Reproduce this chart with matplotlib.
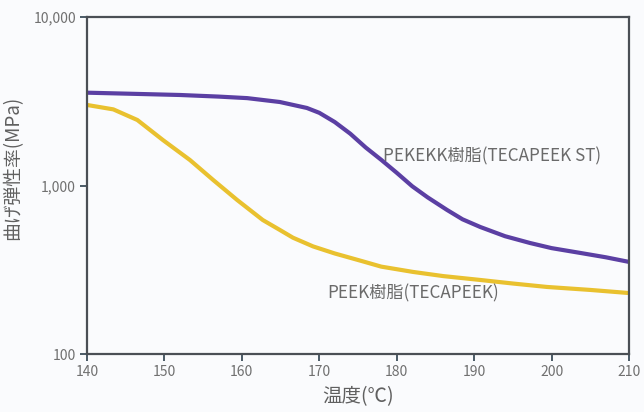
import matplotlib
matplotlib.use("Agg")
import matplotlib.pyplot as plt
from matplotlib.ticker import FixedLocator, FixedFormatter, NullLocator

plt.rcParams["font.family"] = ["Noto Sans CJK JP", "DejaVu Sans"]

# temperature (deg C) and flexural modulus (MPa)
temp_pekekk = [140, 146, 152, 157, 160.7, 164.9, 168.4, 170, 172, 174, 176, 178, 180,
               182, 184, 186.5, 188.5, 190.8, 194, 197.2, 200, 203.7, 207, 210]
mod_pekekk = [3555, 3500, 3445, 3370, 3300, 3130, 2885, 2700, 2380, 2030, 1680, 1420, 1190,
              990, 850, 716, 630, 567, 500, 456, 425, 398, 375, 352]

temp_peek = [140, 143.4, 146.5, 149.8, 153.3, 156.3, 159.4, 162.7, 164.9, 166.6, 169.2,
             172, 175.5, 178, 182.1, 186, 190.8, 195, 199.4, 205, 210]
mod_peek = [3006, 2830, 2448, 1862, 1416, 1078, 820, 624, 545, 490, 435,
            395, 356, 330, 307, 290, 275, 262, 250, 240, 230]

x_ticks = [140, 150, 160, 170, 180, 190, 200, 210]
y_ticks = [100, 1000, 10000]
y_tick_labels = ["100", "1,000", "10,000"]

bg = "#fafbfd"
fig = plt.figure(figsize=(6.44, 4.12), dpi=100, facecolor=bg)
ax = fig.add_axes([87 / 644, 1 - 354 / 412, (629 - 87) / 644, (354 - 17) / 412])
ax.set_facecolor(bg)

ax.plot(temp_pekekk, mod_pekekk, color="#5b3fa3", linewidth=3, solid_capstyle="butt")
ax.plot(temp_peek, mod_peek, color="#e9c12f", linewidth=3, solid_capstyle="butt")

ax.set_yscale("log")
ax.set_xlim(140, 210)
ax.set_ylim(100, 10000)
ax.yaxis.set_major_locator(FixedLocator(y_ticks))
ax.yaxis.set_major_formatter(FixedFormatter(y_tick_labels))
ax.yaxis.set_minor_locator(NullLocator())
ax.set_xticks(x_ticks)

for s in ax.spines.values():
    s.set_color("#4a4f55")
    s.set_linewidth(1.6)

ax.tick_params(axis="both", direction="out", length=5, width=1.4, color="#4a5a66",
               labelsize=10, labelcolor="#707070", pad=3)

ax.set_xlabel("温度(℃)", fontsize=14, color="#606060", labelpad=5)
# y label placed in figure pixels so it sits where the reference has it
fig.text(13 / 644, 1 - 168 / 412, "曲げ弾性率(MPa)", fontsize=13.5, color="#606060",
         rotation=90, ha="center", va="center")

ax.text(178.2, 1480, "PEKEKK樹脂(TECAPEEK ST)", fontsize=12.3, color="#6a6a6a",
        va="center", ha="left")
ax.text(171.0, 230, "PEEK樹脂(TECAPEEK)", fontsize=12.3, color="#6a6a6a",
        va="center", ha="left")

fig.savefig("out.png", dpi=100, facecolor=bg)
